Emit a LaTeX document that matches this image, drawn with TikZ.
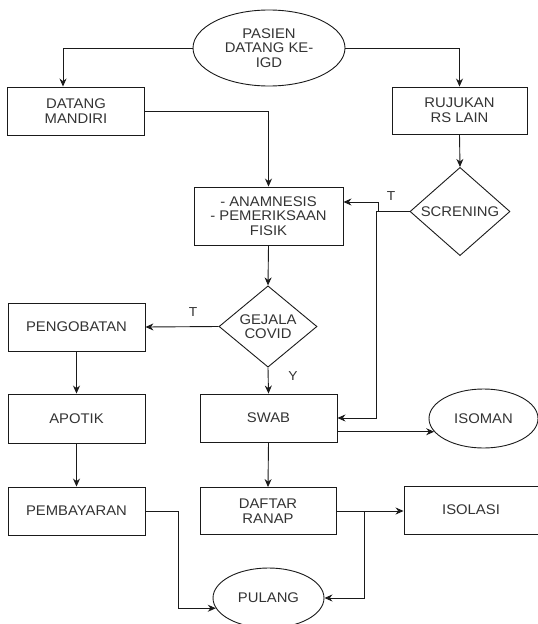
\documentclass[tikz,border=0pt]{standalone}
\usepackage{fontspec}
\setmainfont{Liberation Sans}[FakeStretch=1.06]
\usetikzlibrary{shapes.geometric,arrows.meta}
\definecolor{txt}{HTML}{333333}
\definecolor{ln}{HTML}{1A1A1A}
\tikzset{
  shp/.style={draw=ln, line width=0.9pt, inner sep=0pt, text=txt, align=center,
    font=\fontsize{14}{14.5}\selectfont},
  box/.style={shp, rectangle},
  oval/.style={shp, ellipse},
  dia/.style={shp, diamond},
  arr/.style={draw=ln, line width=0.9pt, -{Stealth[length=8pt,width=7pt]}},
  lbl/.style={text=txt, inner sep=0pt, font=\fontsize{13}{14}\selectfont}
}
\begin{document}
\begin{tikzpicture}[x=1pt,y=-1pt]
\useasboundingbox (0,0) rectangle (538,624);
\begin{scope}
\clip (0,0) rectangle (538,624);
\node[oval, minimum width=152pt, minimum height=76pt] (pasien) at (269,48) {PASIEN\\DATANG KE-\\IGD};
\node[box, minimum width=137pt, minimum height=48pt] (datang) at (76,111) {DATANG\\MANDIRI};
\node[box, minimum width=135pt, minimum height=47pt] (rujukan) at (459.5,110.5) {RUJUKAN\\RS LAIN};
\node[box, minimum width=149pt, minimum height=58pt] (anam) at (268.5,216) {- ANAMNESIS\\- PEMERIKSAAN\\FISIK};
\node[dia, minimum width=100pt, minimum height=77pt] (scr) at (460,211.5) {SCRENING};
\node[dia, minimum width=98pt, minimum height=75pt] (gej) at (268,326.5) {GEJALA\\COVID};
\node[box, minimum width=137pt, minimum height=48pt] (peng) at (76.5,327) {PENGOBATAN};
\node[box, minimum width=137pt, minimum height=49pt] (apotik) at (76.5,418.5) {APOTIK};
\node[box, minimum width=137pt, minimum height=48pt] (bayar) at (76.5,511) {PEMBAYARAN};
\node[box, minimum width=137pt, minimum height=48pt] (swab) at (268.5,418) {SWAB};
\node[oval, minimum width=109pt, minimum height=59pt] (isoman) at (483.5,418.5) {ISOMAN};
\node[box, minimum width=136pt, minimum height=47pt] (daftar) at (268,511) {DAFTAR\\RANAP};
\node[box, minimum width=134pt, minimum height=48pt] (isolasi) at (471,510) {ISOLASI};
\node[oval, minimum width=111pt, minimum height=60pt] (pulang) at (268.5,598) {PULANG};

\node[lbl] (t1) at (391,196) {T};
\node[lbl] (t2) at (193,312) {T};
\node[lbl] (y1) at (293,376) {Y};

\draw[arr] (pasien.west) -| ([xshift=-13pt]datang.north);
\draw[arr] (pasien.east) -| (rujukan.north);
\draw[arr] (datang.east) -| (anam.north);
\draw[arr] (rujukan.south) -- (scr.north);
\draw[arr] (scr.west) -- ++(-31,0) |- ([yshift=14pt]anam.east);
\draw[arr] (scr.west) -- ++(-33,0) |- (swab.east);
\draw[arr] (anam.south) -- (gej.north);
\draw[arr] (gej.west) -- (peng.east);
\draw[arr] (gej.south) -- (swab.north);
\draw[arr] (peng.south) -- (apotik.north);
\draw[arr] (apotik.south) -- (bayar.north);
\draw[arr] (swab.east |- isoman.195) -- (isoman.195);
\draw[arr] (swab.south) -- (daftar.north);
\draw[arr] (daftar.east) -- (daftar.east -| isolasi.west);
\draw[arr] (daftar.east) -- ++(28,0) |- (pulang.east);
\draw[arr] (bayar.east) -- ++(33,0) |- (pulang.191);
\end{scope}
\end{tikzpicture}
\end{document}
